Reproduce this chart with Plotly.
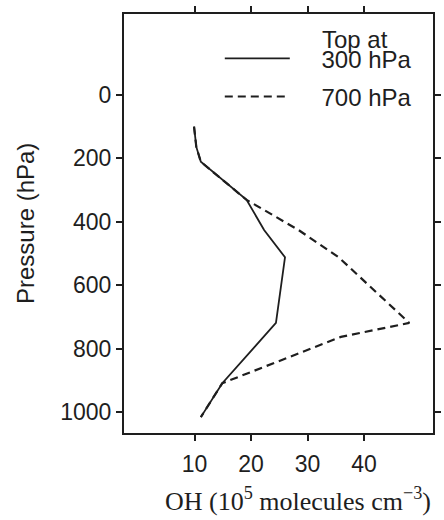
import plotly.graph_objects as go

# Data
pressure = [100, 164, 211, 331, 426, 512, 719, 763, 909, 1016]
oh_top300 = [9.9, 10.3, 11.1, 19.2, 22.3, 26.0, 24.4, 22.2, 14.9, 11.1]
oh_top700 = [9.9, 10.3, 11.1, 19.2, 28.4, 35.5, 48.0, 35.9, 14.9, 11.1]
series_names = ["300 hPa", "700 hPa"]
legend_title = "Top at"
x_ticks = [10, 20, 30, 40]
y_ticks = [0, 200, 400, 600, 800, 1000]

INK = "#1e1e1e"
SANS = "Liberation Sans, Arial, sans-serif"
SERIF = "Liberation Serif, Times New Roman, serif"
GAP = "\u00a0" * 4

fig = go.Figure()
fig.add_trace(go.Scatter(x=oh_top300, y=pressure, mode="lines", name=GAP + series_names[0],
                         legendgroup="a",
                         line=dict(color=INK, width=1.8)))
fig.add_trace(go.Scatter(x=oh_top700, y=pressure, mode="lines", name=GAP + series_names[1],
                         legendgroup="b",
                         line=dict(color=INK, width=2.2, dash="8px,5px")))

axis_common = dict(showline=True, linecolor=INK, linewidth=2, mirror="ticks",
                   ticks="outside", ticklen=6, tickwidth=2, tickcolor=INK,
                   showgrid=False, zeroline=False,
                   tickfont=dict(family=SANS, size=23, color=INK))

fig.update_layout(
    width=444, height=520,
    margin=dict(l=124, r=3, t=14, b=87),
    paper_bgcolor="white", plot_bgcolor="white",
    xaxis=dict(range=[-2.5, 52.2], tickvals=x_ticks, ticklabelstandoff=3, **axis_common),
    yaxis=dict(range=[1066, -255], tickvals=y_ticks, **axis_common),
    showlegend=True,
    legend=dict(x=0.31, y=0.947, xanchor="left", yanchor="top",
                traceorder="grouped", bgcolor="rgba(0,0,0,0)",
                font=dict(family=SANS, size=24, color=INK),
                itemwidth=65, tracegroupgap=4),
    annotations=[
        dict(text=legend_title, xref="paper", yref="paper",
             x=(325 - 124) / 317, y=(433 - 39) / 419, xanchor="left", yanchor="middle",
             showarrow=False, font=dict(family=SANS, size=24, color=INK)),
        dict(text="Pressure (hPa)", xref="paper", yref="paper",
             x=(23 - 124) / 317, y=0.5, xanchor="center", yanchor="middle",
             textangle=-90, showarrow=False, font=dict(family=SANS, size=24, color=INK)),
        dict(text="OH (10<sup>5</sup> molecules cm<sup>−3</sup>)", xref="paper", yref="paper",
             x=(302 - 124) / 317, y=(433 - 499) / 419, xanchor="center", yanchor="middle",
             showarrow=False, font=dict(family=SERIF, size=26, color=INK)),
    ],
)

fig.write_html("out.html")
